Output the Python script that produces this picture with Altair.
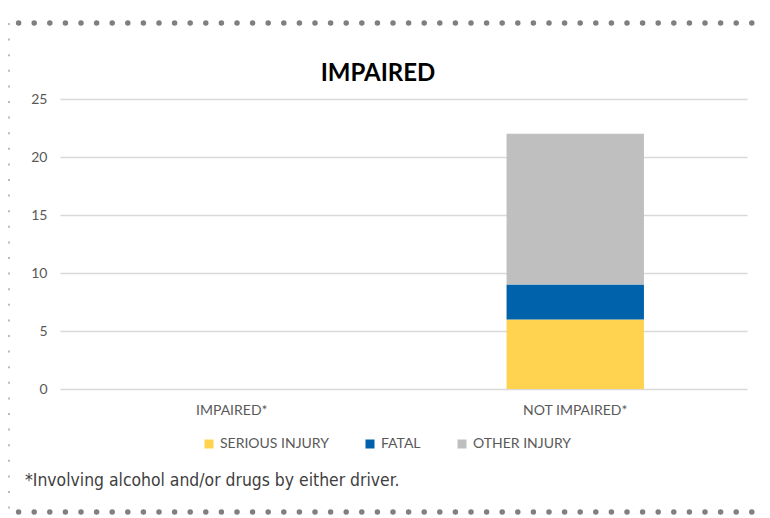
import altair as alt
import pandas as pd

categories = ["IMPAIRED*", "NOT IMPAIRED*"]
series = ["SERIOUS INJURY", "FATAL", "OTHER INJURY"]
serious_injury = [0, 6]
fatal = [0, 3]
other_injury = [0, 13]
colors = ["#FFD24F", "#0062AA", "#BFBFBF"]
y_ticks = [0, 5, 10, 15, 20, 25]
chart_title = ["IMPAIRED"]
footnote = ["*Involving alcohol and/or drugs by either driver."]

rows = []
for i, c in enumerate(categories):
    for k, (s, vals) in enumerate(zip(series, [serious_injury, fatal, other_injury])):
        rows.append({"category": c, "series": s, "value": vals[i], "order": k})
df = pd.DataFrame(rows)

FONT = "Lato"

bars = alt.Chart(df).mark_bar().encode(
    x=alt.X(
        "category:N", sort=categories,
        scale=alt.Scale(paddingInner=0.6, paddingOuter=0.3),
        axis=alt.Axis(title=None, labelAngle=0, ticks=False, domain=False, grid=False,
                      labelPadding=14, labelFontSize=14, labelColor="#595959", labelFont=FONT),
    ),
    y=alt.Y(
        "value:Q", stack="zero", scale=alt.Scale(domain=[0, 25]),
        axis=alt.Axis(title=None, values=y_ticks, ticks=False, domain=False,
                      gridColor="#D9D9D9", gridWidth=1.5, labelPadding=13,
                      labelFontSize=14, labelColor="#595959", labelFont=FONT),
    ),
    color=alt.Color(
        "series:N", sort=series,
        scale=alt.Scale(domain=series, range=colors),
        legend=alt.Legend(title=None, orient="none", legendX=142, legendY=338,
                          direction="horizontal", symbolType="square", symbolSize=81,
                          symbolStrokeWidth=0, labelFontSize=14, labelColor="#595959",
                          labelFont=FONT, columnPadding=34, labelOffset=4),
    ),
    order=alt.Order("order:Q", sort="ascending"),
)

deco = pd.DataFrame({"d": [0]})
dot = dict(color="#7F7F7F", strokeWidth=5.5, strokeDash=[0, 15.6], strokeCap="round")
top = alt.Chart(deco).mark_rule(**dot).encode(
    x=alt.value(-57), x2=alt.value(692), y=alt.value(-76))
bottom = alt.Chart(deco).mark_rule(**dot).encode(
    x=alt.value(-57), x2=alt.value(692), y=alt.value(413))
left = alt.Chart(deco).mark_rule(color="#A6A6A6", strokeWidth=1.5, strokeDash=[2, 13.6]).encode(
    x=alt.value(-51), y=alt.value(-76), y2=alt.value(410))

title = alt.Chart(pd.DataFrame({"t": chart_title})).mark_text(
    align="center", baseline="middle", font=FONT, fontSize=24, fontWeight="bold",
    color="#000000",
).encode(x=alt.value(318), y=alt.value(-25), text="t:N")

note = alt.Chart(pd.DataFrame({"note": footnote})).mark_text(
    align="left", baseline="middle",
    font="'Liberation Sans Narrow', 'DejaVu Sans Condensed', sans-serif",
    fontSize=17.4, color="#404040",
).encode(x=alt.value(-35), y=alt.value(382), text="note:N")

chart = alt.layer(bars, top, bottom, left, title, note).properties(
    width=687, height=290,
    autosize=alt.AutoSizeParams(type="none"),
    padding={"left": 52, "top": 91, "right": 10, "bottom": 129},
).configure_view(stroke=None)

chart.save("out.html", embed_options={"renderer": "svg", "actions": False})
